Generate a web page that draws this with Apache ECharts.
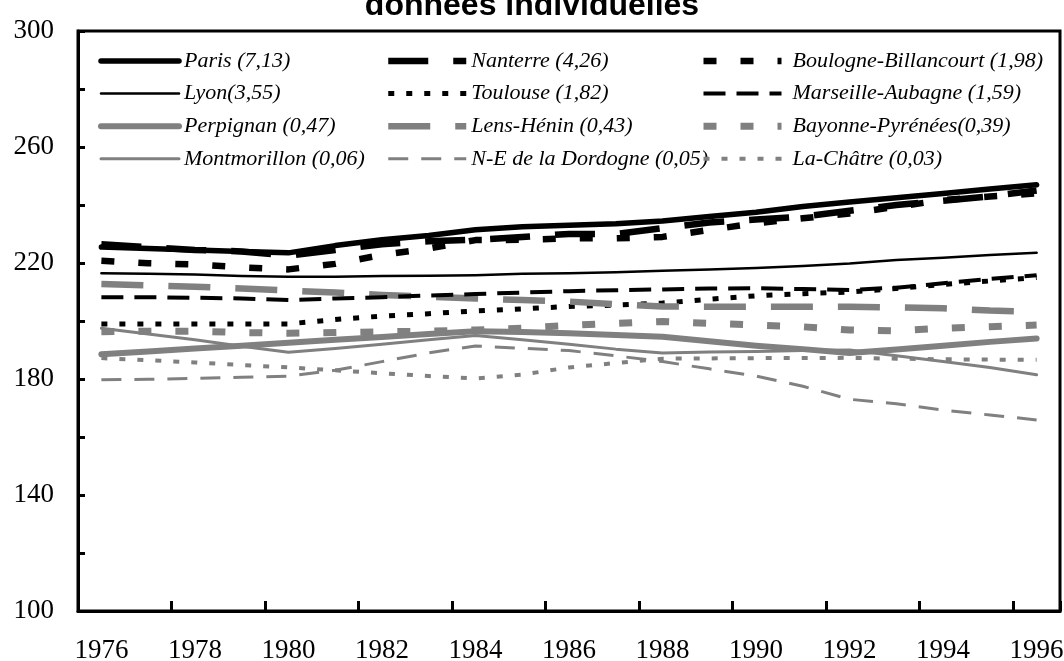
<!DOCTYPE html>
<html>
<head>
<meta charset="utf-8">
<script src="https://cdn.jsdelivr.net/npm/echarts@6/dist/echarts.min.js"></script>
<style>
html,body{margin:0;padding:0;background:#fff;}
#chart{width:1064px;height:661px;}
</style>
</head>
<body>
<div id="chart"></div>
<script>
const years = ['1976','1977','1978','1979','1980','1981','1982','1983','1984','1985','1986','1987','1988','1989','1990','1991','1992','1993','1994','1995','1996'];
const titleText = 'données individuelles';

const paris        = [225.5,225,224.5,224,223.5,226,228,229.5,231.5,232.5,233,233.5,234.5,236,237.5,239.5,241,242.5,244,245.5,247];
const lyon         = [216.5,216.3,216,215.5,215.3,215.3,215.5,215.6,215.8,216.3,216.5,216.8,217.3,217.8,218.3,219,219.8,221,221.8,222.8,223.5];
const perpignan    = [188.5,189.5,190.5,191.5,192.5,193.5,194.5,195.5,196.5,196.2,195.8,195.2,194.6,193,191.5,190.3,189,190.2,191.5,192.8,194];
const montmorillon = [197.5,195.5,193.5,191.3,189.2,190.5,192,193.5,195,193.5,192,190.3,189,189.3,189.5,189.8,190,188,186,184,181.5];
const nanterre     = [226.5,225.5,224.5,224,222.5,224.5,226.5,227.5,228,229,230,230,232,234,235,236,238,240,241.5,243,245];
const toulouse     = [199,199,199,199,199,200.5,201.7,202.5,203.5,204.2,205,205.5,206.2,207.5,208.7,209.4,210,211.2,212.6,213.8,215];
const lens         = [212.8,212.3,211.8,211.2,210.5,209.8,209,208.4,207.8,207.2,206.7,205.8,205,204.9,204.9,204.9,204.9,204.7,204.4,203.6,203.2];
const dordogne     = [179.7,179.9,180.2,180.6,181,183,186,189,191.4,190.6,189.8,188,186,183.5,181,177.5,173,171.5,169.3,167.6,165.9];
const boulogne     = [220.8,219.9,219.5,218.5,217.8,219.7,222.8,225,227.9,228,228.5,228.5,229,231.4,233.7,235.4,237.1,239.4,241.7,242.9,244];
const marseille    = [208.2,208.2,208,207.8,207.2,207.8,208.2,208.8,209.3,209.8,210.3,210.6,210.9,211.2,211.3,211,210.7,211.5,213,214.5,215.8];
const bayonne      = [196.3,196.5,196.5,196,195.8,196,196.3,196.5,196.9,197.5,198.5,199.2,199.8,199.2,198.6,198,196.9,196.6,197.5,198,198.6];
const lachatre     = [187.2,186.5,185.7,184.8,184,183,182,181,180.2,181.5,184,185.5,187,187.1,187.2,187.2,187.3,187,186.8,186.7,186.6];

const names = ['Paris (7,13)','Lyon(3,55)','Perpignan (0,47)','Montmorillon (0,06)',
  'Nanterre (4,26)','Toulouse (1,82)','Lens-Hénin (0,43)','N-E de la Dordogne (0,05)',
  'Boulogne-Billancourt (1,98)','Marseille-Aubagne (1,59)','Bayonne-Pyrénées(0,39)','La-Châtre (0,03)'];

const yMin = 100, yMax = 300, yStep = 20, yLabelStep = 40;

const BLACK = '#000000', GRAY = '#808080';
function s(name, data, color, width, type, cap) {
  return {
    name: name, type: 'line', data: data, symbol: 'none', smooth: false,
    lineStyle: { color: color, width: width, type: type, cap: cap || 'butt', join: 'round' },
    itemStyle: { color: color },
    emphasis: { disabled: true }, animation: false
  };
}

const series = [
  s(names[0], paris, BLACK, 5.5, 'solid', 'round'),
  s(names[1], lyon, BLACK, 2.5, 'solid', 'round'),
  s(names[2], perpignan, GRAY, 6, 'solid', 'round'),
  s(names[3], montmorillon, GRAY, 3, 'solid', 'round'),
  s(names[4], nanterre, BLACK, 6.5, [40, 25]),
  s(names[5], toulouse, BLACK, 5, [6, 12]),
  s(names[6], lens, GRAY, 6.5, [42, 25]),
  s(names[7], dordogne, GRAY, 3, [20, 13]),
  s(names[8], boulogne, BLACK, 6.5, [13, 24]),
  s(names[9], marseille, BLACK, 4, [22, 11]),
  s(names[10], bayonne, GRAY, 7, [13, 24]),
  s(names[11], lachatre, GRAY, 4, [6, 12])
];

const legendText = { fontFamily: 'Liberation Serif', fontStyle: 'italic', fontSize: 22, color: '#000', lineHeight: 20 };
function lg(left, data, pad) {
  return {
    orient: 'vertical', left: left, top: 50, itemWidth: 78, itemHeight: 14, itemGap: 10.6,
    data: data, selectedMode: false, padding: 0,
    itemStyle: { opacity: 0, borderWidth: 0 },
    lineStyle: { width: 'inherit', type: 'inherit', color: 'inherit', cap: 'inherit' },
    textStyle: Object.assign({}, legendText, pad ? { padding: [0, 0, 0, pad] } : {})
  };
}

const chart = echarts.init(document.getElementById('chart'), null, { renderer: 'canvas' });
chart.setOption({
  backgroundColor: '#fff',
  animation: false,
  title: {
    text: titleText, left: 'center', top: -15,
    textStyle: { fontFamily: 'Liberation Sans', fontWeight: 'bold', fontSize: 32, color: '#000' }
  },
  legend: [
    lg(98, names.slice(0, 4), 0),
    lg(385, names.slice(4, 8), 0),
    lg(700, names.slice(8, 12), 6)
  ],
  grid: { left: 78, right: 4, top: 31, bottom: 50, outerBoundsMode: 'none', containLabel: false, show: true, borderColor: '#000', borderWidth: 3, backgroundColor: 'transparent' },
  xAxis: {
    type: 'category', data: years, boundaryGap: true,
    axisLine: { show: true, lineStyle: { color: '#000', width: 3 } },
    axisTick: { show: true, alignWithLabel: false, inside: true, length: 10, interval: 1, lineStyle: { color: '#000', width: 3 } },
    axisLabel: { show: true, interval: 1, margin: 26, fontFamily: 'Liberation Serif', fontSize: 27, color: '#000' },
    splitLine: { show: false }
  },
  yAxis: {
    type: 'value', min: yMin, max: yMax, interval: yStep,
    axisLine: { show: true, lineStyle: { color: '#000', width: 3 } },
    axisTick: { show: true, inside: true, length: 7, lineStyle: { color: '#000', width: 3 } },
    axisLabel: {
      margin: 24, fontFamily: 'Liberation Serif', fontSize: 27, color: '#000',
      formatter: function (v) { return ((v - yMin) % yLabelStep === 0) ? String(v) : ''; }
    },
    splitLine: { show: false }
  },
  series: series
});
</script>
</body>
</html>
